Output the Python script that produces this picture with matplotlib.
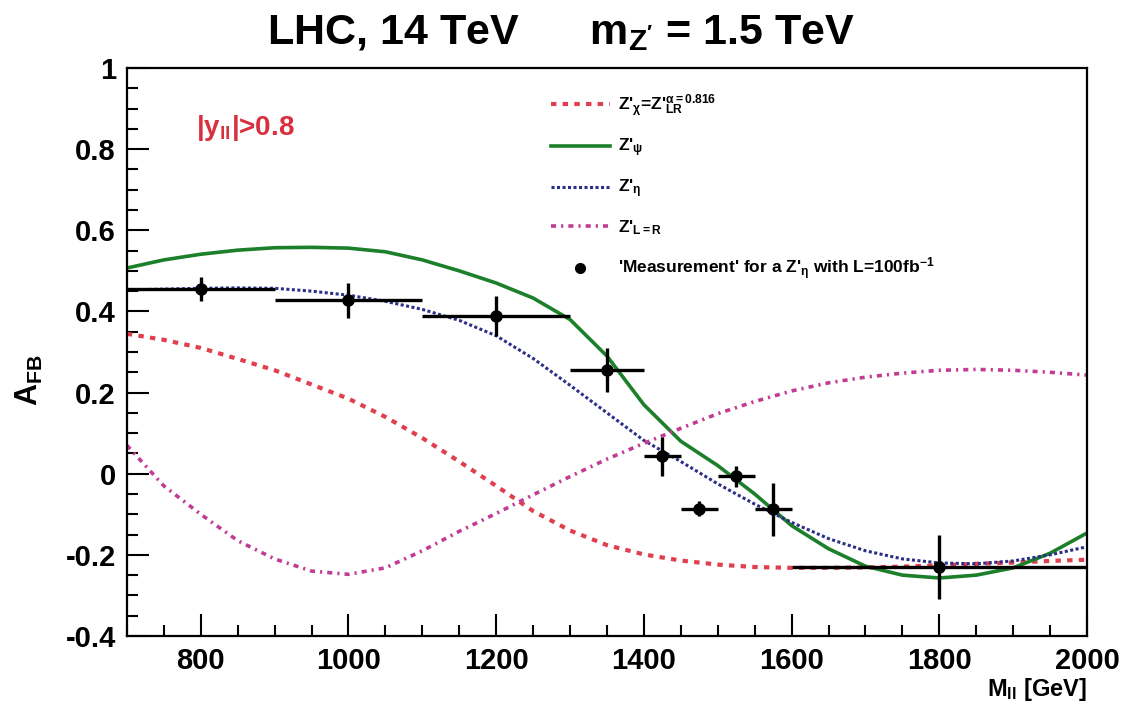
import matplotlib
matplotlib.use("Agg")
import matplotlib.pyplot as plt
from matplotlib.lines import Line2D
from matplotlib.ticker import MultipleLocator

plt.rcParams['font.family'] = ['Liberation Sans', 'DejaVu Sans']
plt.rcParams['mathtext.fontset'] = 'custom'
plt.rcParams['mathtext.rm'] = 'Liberation Sans:bold'
plt.rcParams['mathtext.it'] = 'Liberation Sans:bold'
plt.rcParams['mathtext.bf'] = 'Liberation Sans:bold'

# invariant mass grid for the model curves (GeV)
mass = [700, 750, 800, 850, 900, 950, 1000, 1050, 1100, 1150, 1200, 1250, 1300,
        1350, 1400, 1450, 1500, 1550, 1600, 1650, 1700, 1750, 1800, 1850, 1900,
        1950, 2000]

afb_chi = [0.345, 0.330, 0.310, 0.283, 0.255, 0.220, 0.185, 0.140, 0.088, 0.030,
           -0.030, -0.092, -0.140, -0.176, -0.199, -0.214, -0.224, -0.230, -0.232,
           -0.232, -0.231, -0.229, -0.226, -0.222, -0.219, -0.215, -0.212]
afb_psi = [0.507, 0.527, 0.541, 0.551, 0.557, 0.558, 0.556, 0.547, 0.527, 0.500,
           0.470, 0.433, 0.380, 0.290, 0.170, 0.080, 0.020, -0.050, -0.128,
           -0.185, -0.228, -0.250, -0.257, -0.250, -0.232, -0.196, -0.146]
afb_eta = [0.453, 0.455, 0.457, 0.458, 0.457, 0.450, 0.440, 0.425, 0.405, 0.378,
           0.340, 0.284, 0.218, 0.150, 0.082, 0.030, -0.025, -0.075, -0.120,
           -0.160, -0.190, -0.210, -0.220, -0.222, -0.215, -0.200, -0.180]
afb_lr = [0.070, -0.030, -0.100, -0.165, -0.210, -0.240, -0.248, -0.232, -0.190,
          -0.142, -0.098, -0.052, -0.007, 0.036, 0.075, 0.112, 0.148, 0.178, 0.204,
          0.224, 0.238, 0.248, 0.255, 0.257, 0.255, 0.250, 0.243]

# pseudo-measurement, Z'_eta with 100 fb^-1
meas_m = [800, 1000, 1200, 1350, 1425, 1475, 1525, 1575, 1800]
meas_lo = [100, 100, 100, 50, 25, 25, 25, 25, 200]
meas_hi = [100, 100, 100, 50, 25, 25, 25, 25, 200]
meas_afb = [0.455, 0.428, 0.389, 0.256, 0.043, -0.086, -0.006, -0.088, -0.230]
meas_err = [0.030, 0.043, 0.050, 0.055, 0.048, 0.018, 0.026, 0.065, 0.079]

fig = plt.figure(figsize=(11.23, 7.04), dpi=100)
ax = fig.add_axes([0.113, 0.0966, 0.855, 0.8068])

c_chi = '#e0404e'
c_psi = '#1c7f2a'
c_eta = '#2b2f86'
c_lr = '#c23c96'
ls_chi = (0, (1.3, 1.5))
ls_eta = (0, (1, 0.8))
ls_lr = (0, (1.4, 1.4, 0.6, 1.4))

ax.plot(mass, afb_chi, color=c_chi, lw=3.0, ls=ls_chi)
ax.plot(mass, afb_psi, color=c_psi, lw=2.6, ls='-')
ax.plot(mass, afb_eta, color=c_eta, lw=2.2, ls=ls_eta)
ax.plot(mass, afb_lr, color=c_lr, lw=2.6, ls=ls_lr)

ax.errorbar(meas_m, meas_afb, xerr=[meas_lo, meas_hi], yerr=meas_err,
            fmt='o', color='black', ms=8, elinewidth=2.4, capsize=0, zorder=5)

ax.set_xlim(700, 2000)
ax.set_ylim(-0.4, 1.0)
ax.xaxis.set_major_locator(MultipleLocator(200))
ax.xaxis.set_minor_locator(MultipleLocator(50))
ax.yaxis.set_major_locator(MultipleLocator(0.2))
ax.yaxis.set_minor_locator(MultipleLocator(0.05))
ax.tick_params(which='both', direction='in', top=False, right=False, width=1.5)
ax.tick_params(which='major', length=16, labelsize=21, pad=8)
ax.tick_params(which='minor', length=8)
ax.set_yticklabels([f'{v:g}' for v in ax.get_yticks()])
for lab in ax.get_xticklabels() + ax.get_yticklabels():
    lab.set_fontweight('bold')
for sp in ax.spines.values():
    sp.set_linewidth(1.6)

ax.set_xlabel(r'M$_{\mathregular{ll}}$ [GeV]', fontsize=17, fontweight='bold')
ax.xaxis.set_label_coords(1.0, -0.07)
ax.xaxis.label.set_horizontalalignment('right')
ax.set_ylabel(r'A$_{\mathregular{FB}}$', fontsize=22, fontweight='bold')
ax.yaxis.set_label_coords(-0.085, 0.45)

fig.text(0.5, 0.953, r"LHC, 14 TeV      m$_{\mathregular{Z'}}$ = 1.5 TeV",
         ha='center', va='center', fontsize=31, fontweight='bold')

ax.text(0.072, 0.895, r'|y$_{\mathregular{ll}}$|>0.8', transform=ax.transAxes,
        color='#d9303f', fontsize=20, fontweight='bold', va='center')

handles = [
    Line2D([], [], color=c_chi, lw=3.0, ls=ls_chi),
    Line2D([], [], color=c_psi, lw=2.6),
    Line2D([], [], color=c_eta, lw=2.2, ls=ls_eta),
    Line2D([], [], color=c_lr, lw=2.6, ls=ls_lr),
    Line2D([], [], color='black', marker='o', ms=7, ls='none'),
]
labels = [
    r"Z'$_{\chi}$=Z'$^{\alpha=0.816}_{\mathregular{LR}}$",
    r"Z'$_{\psi}$",
    r"Z'$_{\eta}$",
    r"Z'$_{\mathregular{L=R}}$",
    r"'Measurement' for a Z'$_{\eta}$ with L=100fb$^{-1}$",
]
leg = ax.legend(handles, labels, loc='upper left', bbox_to_anchor=(0.425, 0.985),
                frameon=False, handlelength=3.4, handletextpad=0.5,
                labelspacing=1.05, prop={'size': 12.5, 'weight': 'bold'})

fig.savefig('out.png', dpi=100)
